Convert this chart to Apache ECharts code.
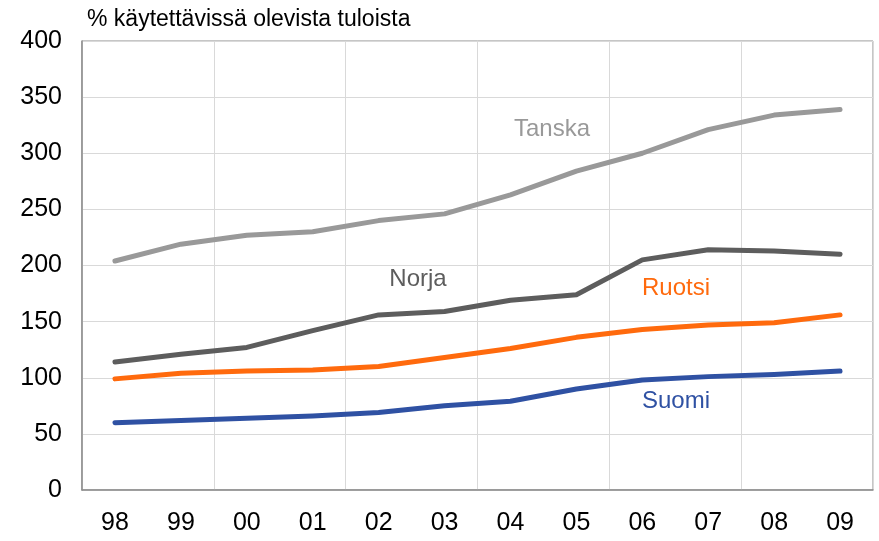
<!DOCTYPE html>
<html>
<head>
<meta charset="utf-8">
<script src="https://cdn.jsdelivr.net/npm/echarts@6/dist/echarts.min.js"></script>
<style>
  html, body { margin: 0; padding: 0; background: #ffffff; }
  #chart { width: 879px; height: 541px; }
</style>
</head>
<body>
<div id="chart"></div>
<script>
// Vuodet (kaksinumeroisina)
const years = ['98', '99', '00', '01', '02', '03', '04', '05', '06', '07', '08', '09'];

// Kotitalouksien velka, % käytettävissä olevista tuloista
const tanska = [204, 219, 227, 230, 240, 246, 263, 284, 300, 321, 334, 339];
const norja  = [114, 121, 127, 142, 156, 159, 169, 174, 205, 214, 213, 210];
const ruotsi = [99, 104, 106, 107, 110, 118, 126, 136, 143, 147, 149, 156];
const suomi  = [60, 62, 64, 66, 69, 75, 79, 90, 98, 101, 103, 106];

const yTicks = [0, 50, 100, 150, 200, 250, 300, 350, 400];

const FONT = '"Liberation Sans", Arial, sans-serif';
const colors = {
  tanska: '#999999',
  norja: '#5d5d5d',
  ruotsi: '#ff6a0d',
  suomi: '#2f51a3'
};

const chart = echarts.init(document.getElementById('chart'), null, { renderer: 'canvas' });

function lineSeries(name, data, color) {
  return {
    name: name,
    type: 'line',
    data: data,
    symbol: 'none',
    smooth: false,
    lineStyle: { color: color, width: 5, cap: 'round', join: 'round' },
    itemStyle: { color: color },
    z: 3
  };
}

const option = {
  animation: false,
  backgroundColor: '#ffffff',
  grid: {
    left: 82, right: 6, top: 41, bottom: 51,
    show: true, borderColor: '#8c8c8c', borderWidth: 1,
    containLabel: false
  },
  xAxis: {
    type: 'category',
    data: years,
    boundaryGap: true,
    axisLine: { show: true, lineStyle: { color: '#8c8c8c', width: 1.5 } },
    axisTick: { show: false },
    axisLabel: {
      color: '#000000', fontSize: 25, fontFamily: FONT, margin: 21
    },
    splitLine: {
      show: true,
      interval: 1,
      lineStyle: { color: '#d9d9d9', width: 1 }
    }
  },
  yAxis: {
    type: 'value',
    min: yTicks[0],
    max: yTicks[yTicks.length - 1],
    interval: yTicks[1] - yTicks[0],
    axisLine: { show: true, lineStyle: { color: '#8c8c8c', width: 1.5 } },
    axisTick: { show: false },
    axisLabel: {
      color: '#000000', fontSize: 25, fontFamily: FONT, margin: 20
    },
    splitLine: { show: true, lineStyle: { color: '#d9d9d9', width: 1 } }
  },
  series: [
    lineSeries('Tanska', tanska, colors.tanska),
    lineSeries('Norja', norja, colors.norja),
    lineSeries('Ruotsi', ruotsi, colors.ruotsi),
    lineSeries('Suomi', suomi, colors.suomi)
  ],
  graphic: [
    {
      type: 'text', left: 87, top: 8,
      style: { text: '% käytettävissä olevista tuloista', fill: '#000000', font: '23px ' + FONT }
    },
    {
      type: 'text', x: 552, y: 129,
      style: { text: 'Tanska', fill: colors.tanska, font: '24px ' + FONT, align: 'center', verticalAlign: 'middle' }
    },
    {
      type: 'text', x: 418, y: 279,
      style: { text: 'Norja', fill: colors.norja, font: '24px ' + FONT, align: 'center', verticalAlign: 'middle' }
    },
    {
      type: 'text', x: 676, y: 288,
      style: { text: 'Ruotsi', fill: colors.ruotsi, font: '24px ' + FONT, align: 'center', verticalAlign: 'middle' }
    },
    {
      type: 'text', x: 676, y: 401,
      style: { text: 'Suomi', fill: colors.suomi, font: '24px ' + FONT, align: 'center', verticalAlign: 'middle' }
    }
  ]
};

chart.setOption(option);
</script>
</body>
</html>
